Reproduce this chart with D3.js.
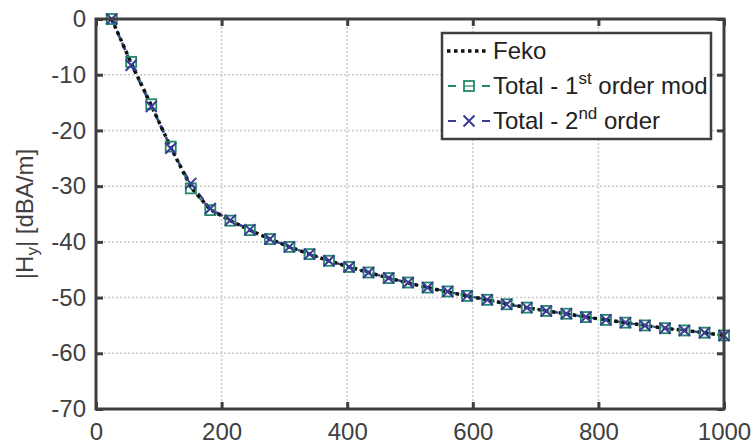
<!DOCTYPE html>
<html><head><meta charset="utf-8">
<script src="https://cdn.jsdelivr.net/npm/d3@7"></script>
<style>body{margin:0;background:#fff}svg{display:block}text{font-family:"Liberation Sans",Arial,sans-serif}</style>
</head><body><svg id="c" width="754" height="444"></svg>
<script>
const xVals = [25, 56, 88, 119, 151, 182, 214, 245, 277, 308, 340, 371, 403, 434, 466, 497, 528, 560, 591, 623, 654, 686, 717, 749, 780, 812, 843, 874, 906, 937, 969, 1000];
const feko = [0, -7.9, -15.5, -23.0, -30.2, -34.2, -36.2, -37.9, -39.5, -40.9, -42.2, -43.4, -44.5, -45.5, -46.5, -47.4, -48.2, -49.0, -49.7, -50.4, -51.1, -51.8, -52.4, -52.9, -53.5, -54.0, -54.5, -55.0, -55.5, -55.9, -56.3, -56.8];
const firstOrder = [0, -7.7, -15.3, -22.9, -30.4, -34.3, -36.2, -37.9, -39.5, -40.9, -42.2, -43.4, -44.5, -45.5, -46.5, -47.3, -48.2, -48.9, -49.7, -50.4, -51.2, -51.8, -52.4, -52.9, -53.5, -54.0, -54.5, -55.0, -55.5, -55.9, -56.3, -56.8];
const secondOrder = [0, -8.3, -15.7, -23.2, -29.5, -34.0, -36.1, -37.8, -39.5, -40.9, -42.2, -43.4, -44.5, -45.5, -46.5, -47.3, -48.2, -48.9, -49.7, -50.4, -51.2, -51.8, -52.4, -52.9, -53.5, -54.0, -54.5, -55.0, -55.5, -55.9, -56.3, -56.8];
const xTicks = [0, 200, 400, 600, 800, 1000];
const yTicks = [0, -10, -20, -30, -40, -50, -60, -70];

const svg = d3.select("#c");
const L = 96, R = 724, T = 19, B = 409;
const x = d3.scaleLinear().domain([0, 1000]).range([L, R]);
const y = d3.scaleLinear().domain([-70, 0]).range([B, T]);
const axisCol = "#3f3f3f", green = "#23896b", blue = "#3b3b98";

// grid
const g = svg.append("g");
g.selectAll(".gx").data(xTicks.slice(1, -1)).enter().append("line")
  .attr("x1", d => x(d)).attr("x2", d => x(d)).attr("y1", T).attr("y2", B)
  .attr("stroke", "#c9c9c9").attr("stroke-width", 1.5).attr("stroke-dasharray", "2,2");
g.selectAll(".gy").data(yTicks.slice(1, -1)).enter().append("line")
  .attr("x1", L).attr("x2", R).attr("y1", d => y(d)).attr("y2", d => y(d))
  .attr("stroke", "#c9c9c9").attr("stroke-width", 1.5).attr("stroke-dasharray", "2,2");

// axes with ticks
const fmt = d => d < 0 ? "-" + Math.abs(d) : String(d);
const xa = svg.append("g").attr("transform", `translate(0,${B})`)
  .call(d3.axisBottom(x).tickValues(xTicks).tickSize(-7).tickPadding(14).tickFormat(fmt));
const xt = svg.append("g").attr("transform", `translate(0,${T})`)
  .call(d3.axisTop(x).tickValues(xTicks).tickSize(-7).tickFormat(""));
const ya = svg.append("g").attr("transform", `translate(${L},0)`)
  .call(d3.axisLeft(y).tickValues(yTicks).tickSize(-7).tickPadding(10).tickFormat(fmt));
const yr = svg.append("g").attr("transform", `translate(${R},0)`)
  .call(d3.axisRight(y).tickValues(yTicks).tickSize(-7).tickFormat(""));
[xa, xt, ya, yr].forEach(a => {
  a.select(".domain").remove();
  a.selectAll(".tick line").attr("stroke", axisCol).attr("stroke-width", 3);
  a.selectAll(".tick text").attr("fill", "#404040").attr("font-size", 24);
});
xa.selectAll(".tick text").attr("dy", "0.71em");

// data lines
const pts = arr => arr.map((v, i) => [xVals[i], v]);
const line = d3.line().x(d => x(d[0])).y(d => y(d[1]));
svg.append("path").attr("d", line(pts(firstOrder))).attr("fill", "none")
  .attr("stroke", green).attr("stroke-width", 2).attr("stroke-dasharray", "8,5");
svg.append("path").attr("d", line(pts(secondOrder))).attr("fill", "none")
  .attr("stroke", blue).attr("stroke-width", 2).attr("stroke-dasharray", "8,5");
svg.append("path").attr("d", line(pts(feko))).attr("fill", "none")
  .attr("stroke", "#111").attr("stroke-width", 3.5).attr("stroke-dasharray", "3.5,3.5");

// markers
const sq = 10;
svg.append("g").selectAll("rect").data(pts(firstOrder)).enter().append("rect")
  .attr("x", d => x(d[0]) - sq / 2).attr("y", d => y(d[1]) - sq / 2)
  .attr("width", sq).attr("height", sq).attr("fill", "none")
  .attr("stroke", green).attr("stroke-width", 1.8);
const cs = 5.5;
const crossPath = (cx, cy) => `M${cx - cs},${cy - cs}L${cx + cs},${cy + cs}M${cx - cs},${cy + cs}L${cx + cs},${cy - cs}`;
svg.append("g").selectAll("path").data(pts(secondOrder)).enter().append("path")
  .attr("d", d => crossPath(x(d[0]), y(d[1])))
  .attr("stroke", blue).attr("stroke-width", 2).attr("fill", "none");

// frame
svg.append("rect").attr("x", L).attr("y", T).attr("width", R - L).attr("height", B - T)
  .attr("fill", "none").attr("stroke", axisCol).attr("stroke-width", 3);

// y label
const yl = svg.append("text").attr("transform", `translate(33,${(T + B) / 2}) rotate(-90)`)
  .attr("text-anchor", "middle").attr("fill", "#404040").attr("font-size", 24);
yl.append("tspan").text("|H");
yl.append("tspan").attr("font-size", 17).attr("dy", 5).text("y");
yl.append("tspan").attr("dy", -5).text("| [dBA/m]");

// legend
const lg = svg.append("g");
const lx0 = 442, lx1 = 711, ly0 = 33, ly1 = 139;
lg.append("rect").attr("x", lx0).attr("y", ly0).attr("width", lx1 - lx0).attr("height", ly1 - ly0)
  .attr("fill", "#fff").attr("stroke", axisCol).attr("stroke-width", 2.5);
const rows = [51, 86, 121];
lg.append("line").attr("x1", 447).attr("x2", 487).attr("y1", rows[0]).attr("y2", rows[0])
  .attr("stroke", "#111").attr("stroke-width", 3.5).attr("stroke-dasharray", "3.5,3.5");
[[rows[1], green], [rows[2], blue]].forEach(([ry, c]) => {
  lg.append("line").attr("x1", 448).attr("x2", 456).attr("y1", ry).attr("y2", ry).attr("stroke", c).attr("stroke-width", 2);
  lg.append("line").attr("x1", 482).attr("x2", 490).attr("y1", ry).attr("y2", ry).attr("stroke", c).attr("stroke-width", 2);
});
lg.append("rect").attr("x", 469 - sq / 2).attr("y", rows[1] - sq / 2).attr("width", sq).attr("height", sq)
  .attr("fill", "none").attr("stroke", green).attr("stroke-width", 1.8);
lg.append("line").attr("x1", 469 - sq / 2).attr("x2", 469 + sq / 2).attr("y1", rows[1]).attr("y2", rows[1])
  .attr("stroke", green).attr("stroke-width", 1.2);
lg.append("path").attr("d", crossPath(469, rows[2])).attr("stroke", blue).attr("stroke-width", 2);

const tx = 493;
lg.append("text").attr("x", tx).attr("y", rows[0]).attr("dy", "0.35em").attr("font-size", 24).attr("fill", "#222").text("Feko");
const t1 = lg.append("text").attr("x", tx).attr("y", rows[1]).attr("dy", "0.35em").attr("font-size", 24).attr("fill", "#222");
t1.append("tspan").text("Total - 1");
t1.append("tspan").attr("font-size", 17).attr("dy", -10).text("st");
t1.append("tspan").attr("dy", 10).text(" order mod");
const t2 = lg.append("text").attr("x", tx).attr("y", rows[2]).attr("dy", "0.35em").attr("font-size", 24).attr("fill", "#222");
t2.append("tspan").text("Total - 2");
t2.append("tspan").attr("font-size", 17).attr("dy", -10).text("nd");
t2.append("tspan").attr("dy", 10).text(" order");
</script></body></html>
